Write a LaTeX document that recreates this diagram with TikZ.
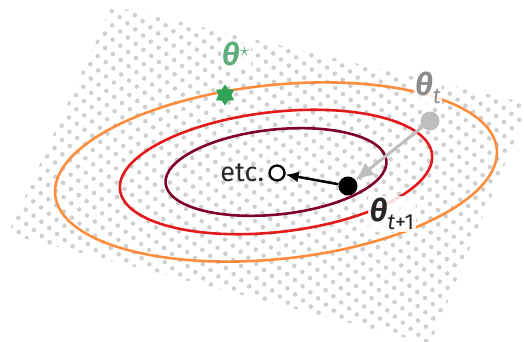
\documentclass[tikz,border=0pt]{standalone}
\usepackage{amsmath,amssymb}
\usepackage{fontspec}
\setmainfont{Fira Sans}
\usetikzlibrary{shapes.geometric,arrows.meta,positioning}
\definecolor{lossorange}{HTML}{FD8D3C}
\definecolor{lossred}{HTML}{E31A1C}
\definecolor{lossdark}{HTML}{800026}
\definecolor{stargreen}{HTML}{31A354}
\definecolor{starlabel}{HTML}{5FAE7C}
\definecolor{stepgrey}{HTML}{BDBDBD}
\definecolor{labelgrey}{HTML}{8C8C8C}
\definecolor{planegrey}{HTML}{CFCFCF}
\newcommand{\bth}{{\bfseries\itshape θ}}
\newcommand{\subtxt}[1]{\raisebox{-0.28em}{\fontsize{22}{24}\selectfont #1}}

\begin{document}
\begin{tikzpicture}[x=1pt, y=1pt,
    contour/.style={line width=2.6pt},
    planedot/.style={planegrey},
    lbl/.style={fill=white, fill opacity=0.85, text opacity=1, inner sep=1.5pt, font=\fontsize{31}{34}\selectfont}]
    \useasboundingbox (0,0) rectangle (524,342);

    % dotted plane
    \begin{scope}
        \clip (112,336) -- (530,238) -- (430,-2) -- (8,108) -- cycle;
        \foreach \i in {-2,...,48} {
            \foreach \j in {-18,...,25} {
                \fill[planedot] ({127+7.8*\i-7.4*\j},{333-6.1*\i-8.2*\j}) circle (2.3pt);
            }
        }
    \end{scope}

    % level sets
    \coordinate (c) at (276,170);
    \draw[contour, lossorange, rotate around={6:(c)}] (c) ellipse (222 and 87);
    \draw[contour, lossred, rotate around={6.5:(c)}] (c) ellipse (157 and 60);
    \draw[contour, lossdark, rotate around={6:(c)}] (c) ellipse (111 and 42.5);

    % points
    \node[star, star points=6, star point ratio=1.6, fill=stargreen, minimum size=21pt, inner sep=0pt] (opt) at (225,247) {};
    \node[circle, fill=stepgrey, minimum size=19pt, inner sep=0pt] (cur) at (430,221) {};
    \node[circle, fill=black, minimum size=19pt, inner sep=0pt] (next) at (348,156) {};
    \node[circle, draw=black, line width=2.3pt, fill=white, minimum size=15pt, inner sep=0pt] (etc) at (277,169) {};

    \draw[stepgrey, line width=3pt, -{Latex[length=18pt,width=16pt]}] (cur) -- (next);
    \draw[black, line width=2.5pt, -{Latex[length=13pt,width=11pt]}] (next) -- (etc);

    % labels
    \node[lbl, text=starlabel] (optlbl) at (236,288) {\bth$^{\star}$};
    \node[lbl, text=labelgrey] (curlbl) at (428,254) {\bth\subtxt{\itshape t}};
    \node[lbl, text=black!85] (nextlbl) at (392,128) {\bth\subtxt{\itshape t\upshape +1}};
    \node[left=4pt of etc, font=\fontsize{27}{30}\selectfont, text=black!85, inner sep=0pt] (etclbl) {etc.};
\end{tikzpicture}
\end{document}
